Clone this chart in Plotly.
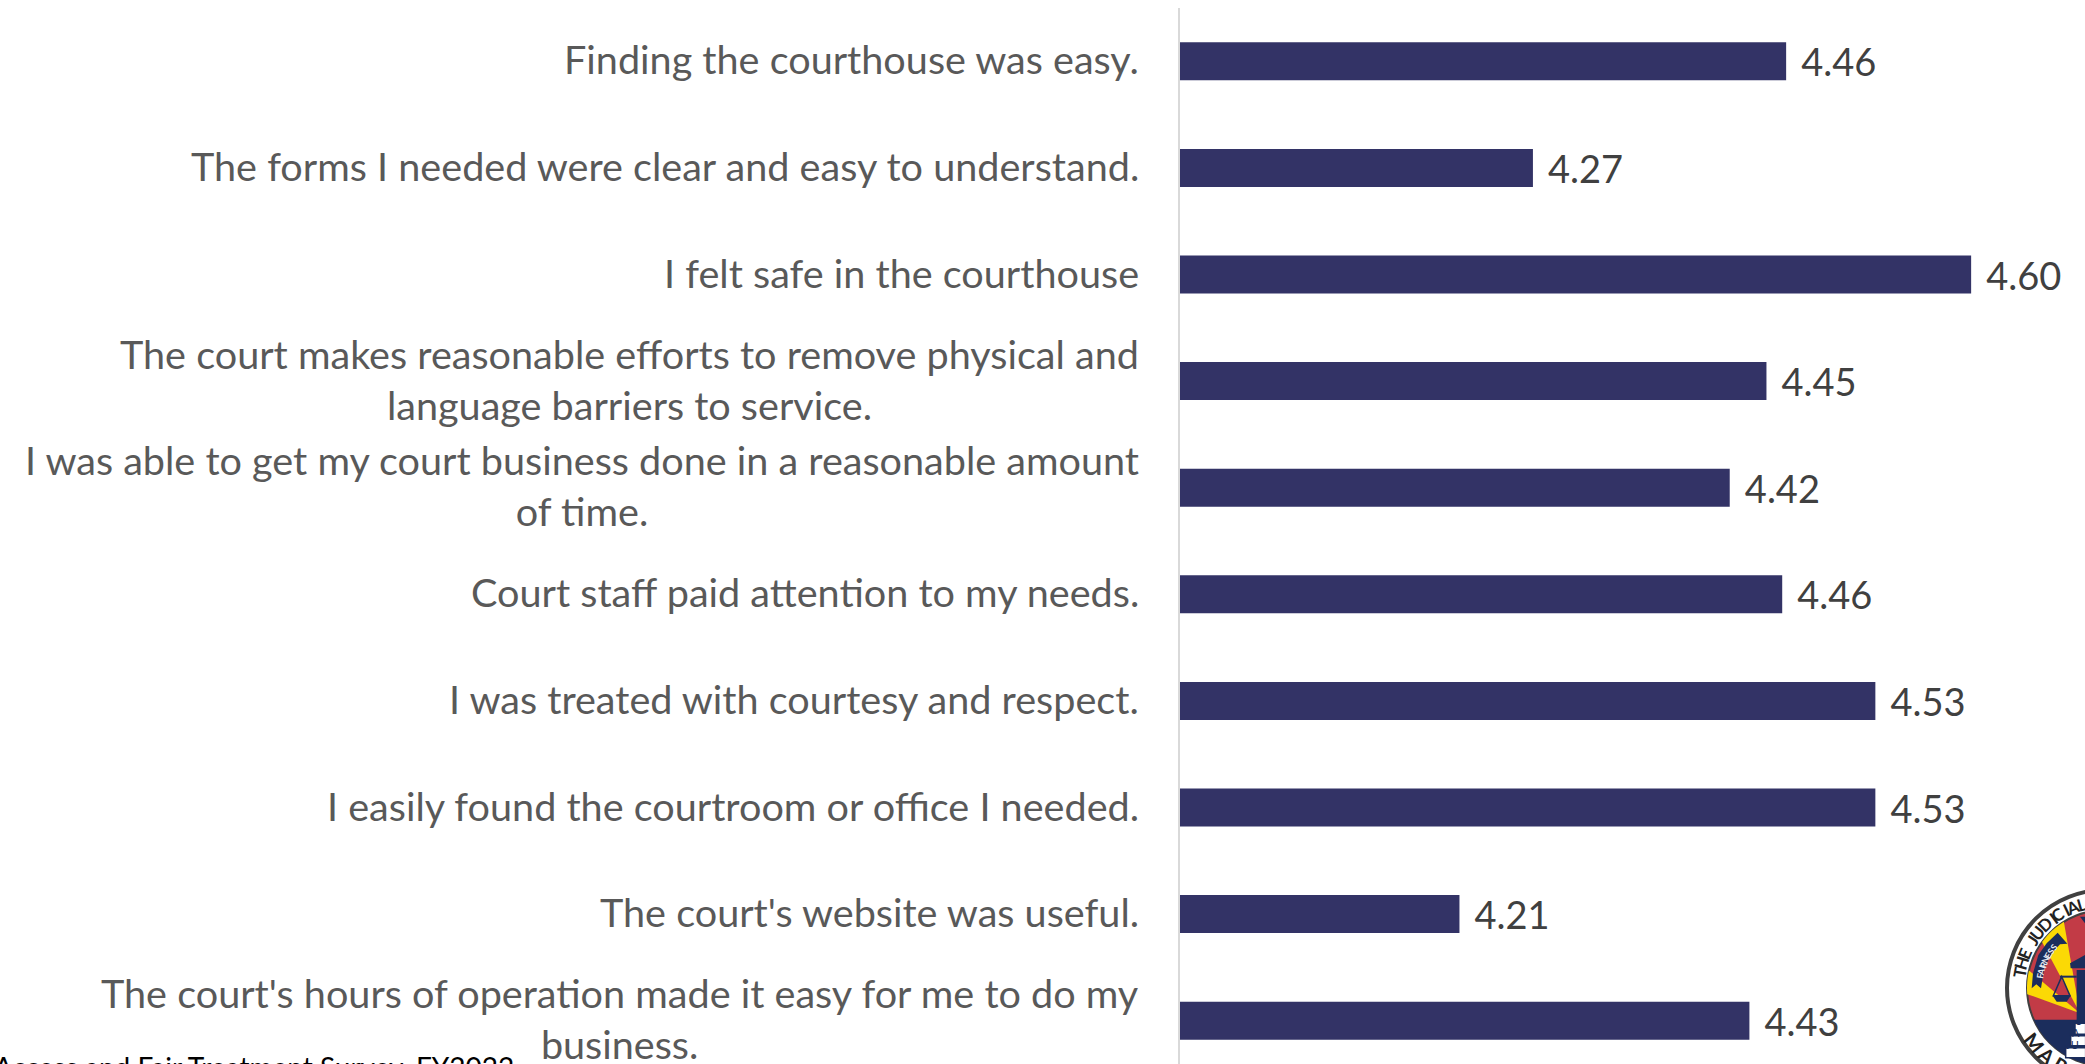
import math
import plotly.graph_objects as go

categories = [
    "Finding the courthouse was easy.",
    "The forms I needed were clear and easy to understand.",
    "I felt safe in the courthouse",
    "The court makes reasonable efforts to remove physical and<br>language barriers to service.",
    "I was able to get my court business done in a reasonable amount<br>of time.",
    "Court staff paid attention to my needs.",
    "I was treated with courtesy and respect.",
    "I easily found the courtroom or office I needed.",
    "The court's website was useful.",
    "The court's hours of operation made it easy for me to do my<br>business.",
]
values = [4.462, 4.269, 4.603, 4.447, 4.419, 4.459, 4.530, 4.530, 4.213, 4.434]
footer = "Access and Fair Treatment Survey, FY2022"

W, H = 2085, 1064
L, T = 1180, 8
PW, PH = W - L, H - T
FONT = "Lato"
NAVY = "#1b2d5c"
RED = "#c23b46"
YELLOW = "#fbd905"


def px(x):
    return (x - L) / PW


def py(y):
    return 1 - (y - T) / PH


def circle(cx, cy, r, **kw):
    return dict(type="circle", xref="paper", yref="paper", x0=px(cx - r), x1=px(cx + r),
                y0=py(cy + r), y1=py(cy - r), **kw)


def poly(points, fill, line=None):
    d = "M" + " L".join(f"{px(a):.5f},{py(b):.5f}" for a, b in points) + " Z"
    return dict(type="path", xref="paper", yref="paper", path=d, fillcolor=fill,
                line=line or dict(width=0))


def seal(x, y):
    return (2005 + x / 3, 885 + y / 3)


fig = go.Figure(go.Bar(
    x=values, y=categories, orientation="h", width=38 / 106.6,
    marker=dict(color="#333366", line_width=0),
    text=[f"\u00a0\u200a{v:.2f}" for v in values],
    textposition="outside", cliponaxis=False, constraintext="none",
    textfont=dict(family=FONT, size=38, color="#404040"),
    hoverinfo="skip",
))

annotations = [
    dict(xref="paper", yref="y", x=0, y=c, text=c, showarrow=False, xanchor="right",
         yanchor="middle", align="center", xshift=-39, yshift=2.5,
         font=dict(family=FONT, size=39.6, color="#595959"))
    for c in categories
]
annotations.append(dict(xref="paper", yref="paper", x=px(515), y=py(1049), text=footer,
                        showarrow=False, xanchor="right", yanchor="top", borderpad=0,
                        font=dict(family=FONT, size=28, color="#000000")))

# Seal in the lower right corner
CX, CY, R = 2105, 988, 78
shapes = [
    circle(CX, CY, 98, fillcolor="#ffffff", line=dict(color="#404040", width=4)),
    circle(CX, CY, R, fillcolor=RED, line=dict(color="#404040", width=2)),
]
BX, BY = seal(225, 385)


def rim(angle):
    a = math.radians(angle)
    ux, uy = math.cos(a), -math.sin(a)
    fx, fy = BX - CX, BY - CY
    b = fx * ux + fy * uy
    t = -b + math.sqrt(b * b - (fx * fx + fy * fy - R * R))
    return (BX + t * ux, BY + t * uy)


for a0, a1 in [(140, 160), (100, 118)]:
    shapes.append(poly([(BX, BY)] + [rim(a0 + (a1 - a0) * k / 6) for k in range(7)], YELLOW))
bottom = [(CX + R * math.cos(math.radians(a)), CY + R * math.sin(math.radians(a)))
          for a in range(24, 157, 4)]
shapes.append(poly(bottom, NAVY))
shapes.append(poly([seal(*p) for p in [(80, 310), (84, 265), (100, 210), (125, 175), (158, 143),
                                       (187, 176), (165, 178), (140, 205), (118, 250), (108, 310),
                                       (94, 298)]], NAVY))
shapes.append(poly([seal(*p) for p in [(215, 415), (215, 255), (240, 255), (240, 415)]], NAVY))
shapes.append(poly([seal(*p) for p in [(195, 235), (240, 210), (240, 250), (197, 250)]], NAVY))
shapes.append(poly([seal(*p) for p in [(225, 95), (240, 95), (240, 115)]], NAVY))
shapes.append(poly([seal(*p) for p in [(165, 272), (215, 272), (215, 278), (165, 278)]], NAVY))
thin = dict(color=NAVY, width=1.5)
shapes.append(poly([seal(*p) for p in [(170, 275), (145, 332), (195, 332)]], "rgba(0,0,0,0)", thin))
shapes.append(poly([seal(*p) for p in [(143, 332), (197, 332), (185, 350), (155, 350)]], NAVY))
for x0, y0, y1 in [(210, 415, 448), (197, 452, 482), (182, 488, 518)]:
    shapes.append(poly([seal(*p) for p in [(x0, y0), (242, y0), (242, y1), (x0, y1)]], "#ffffff", thin))


def arc_text(text, a_start, a_step, radius, size, color, weight="normal"):
    a = a_start
    for ch in text:
        r = math.radians(a)
        annotations.append(dict(
            xref="paper", yref="paper", x=px(CX + radius * math.cos(r)), y=py(CY + radius * math.sin(r)),
            text=ch, showarrow=False, xanchor="center", yanchor="middle",
            textangle=a + 90 if a_step > 0 else a - 90,
            font=dict(family=FONT, size=size, color=color, weight=weight)))
        a += a_step * (0.6 if ch in "I " else 1.1 if ch in "UDC" else 1)


arc_text("THE JUDICIAL", 190.5, 6.3, 87, 17, "#222222", "bold")
arc_text("FAIRNESS", 190, 4.3, 66, 9, "#e8e8f0", "bold")
arc_text("MAR", 142, -11, 89, 20, "#222222", "bold")
for label, (sx, sy), size in [("A", (232, 468), 11), ("JU", (228, 504), 11), ("S", (238, 432), 11)]:
    pt = seal(sx, sy)
    annotations.append(dict(xref="paper", yref="paper", x=px(pt[0]), y=py(pt[1]), text=label,
                            showarrow=False, font=dict(family=FONT, size=size, color=NAVY)))

fig.update_layout(
    width=W, height=H, autosize=False,
    margin=dict(l=L, r=0, t=T, b=0),
    plot_bgcolor="#ffffff", paper_bgcolor="#ffffff",
    showlegend=False, annotations=annotations, shapes=shapes,
    xaxis=dict(range=[4.0, 4.0 + PW / 1312], visible=False, fixedrange=True),
    yaxis=dict(categoryorder="array", categoryarray=categories, range=[9.406, -0.5],
               showticklabels=False, ticks="", showgrid=False, zeroline=False, fixedrange=True,
               showline=True, linecolor="#D9D9D9", linewidth=2),
)
fig.write_html("out.html", post_script="document.body.style.margin='0';document.body.style.overflow='hidden';",
               config=dict(displayModeBar=False))
